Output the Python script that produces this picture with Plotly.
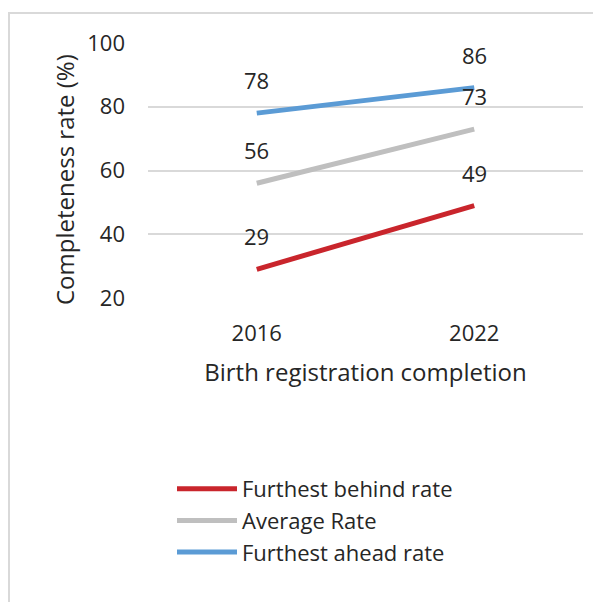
import plotly.graph_objects as go

years = ["2016", "2022"]
furthest_behind = [29, 49]
average_rate = [56, 73]
furthest_ahead = [78, 86]

series = [
    ("Furthest behind rate", furthest_behind, "#C9252C"),
    ("Average Rate", average_rate, "#BFBFBF"),
    ("Furthest ahead rate", furthest_ahead, "#5B9BD5"),
]

font = "Open Sans, Noto Sans, sans-serif"
text_col = "#262626"

fig = go.Figure()
annotations = []
for name, vals, col in series:
    fig.add_trace(go.Scatter(x=years, y=vals, name=name, mode="lines",
                             line=dict(color=col, width=5)))
    for i, v in enumerate(vals):
        # category index, so "2016" is not read as a number
        annotations.append(dict(x=i, y=v, text=str(v), showarrow=False, yshift=33,
                                font=dict(size=22, color=text_col, family=font)))

# page is offset ~8px by the body margin, so positions below are in reference pixels
pw, ph = 435, 255
def px_x(p):
    return (p - 148) / pw
def px_y(p):
    return (298 - p) / ph

# y title as annotation (sits a bit lower than the plot centre in the original)
annotations.append(dict(xref="paper", yref="paper", x=px_x(64), y=px_y(180),
                        text="Completeness rate (%)", textangle=-90, showarrow=False,
                        xanchor="center", yanchor="middle",
                        font=dict(size=24, color=text_col, family=font)))

fig.add_shape(type="rect", xref="paper", yref="paper",
              x0=px_x(9), x1=px_x(620), y0=px_y(13), y1=px_y(620),
              line=dict(color="#D9D9D9", width=2), fillcolor="rgba(0,0,0,0)")

fig.update_layout(
    width=593, height=594,
    margin=dict(l=140, r=18, t=35, b=304),
    paper_bgcolor="white", plot_bgcolor="white",
    font=dict(family=font, size=22, color=text_col),
    annotations=annotations,
    showlegend=True,
    legend=dict(x=px_x(172), y=px_y(468), xanchor="left", yanchor="top",
                font=dict(size=22, color=text_col), tracegroupgap=0,
                itemwidth=60, bgcolor="rgba(0,0,0,0)"),
)
fig.update_xaxes(type="category", range=[-0.5, 1.5], showgrid=False, showline=False,
                 ticks="", ticklabelstandoff=20, tickfont=dict(size=22),
                 title=dict(text="Birth registration completion", font=dict(size=24), standoff=18))
fig.update_yaxes(range=[20, 100], dtick=20, showgrid=True, gridcolor="#D9D9D9", gridwidth=1.5,
                 zeroline=False, showline=False, ticks="", ticklabelstandoff=22,
                 tickfont=dict(size=22))

fig.write_html("out.html")
